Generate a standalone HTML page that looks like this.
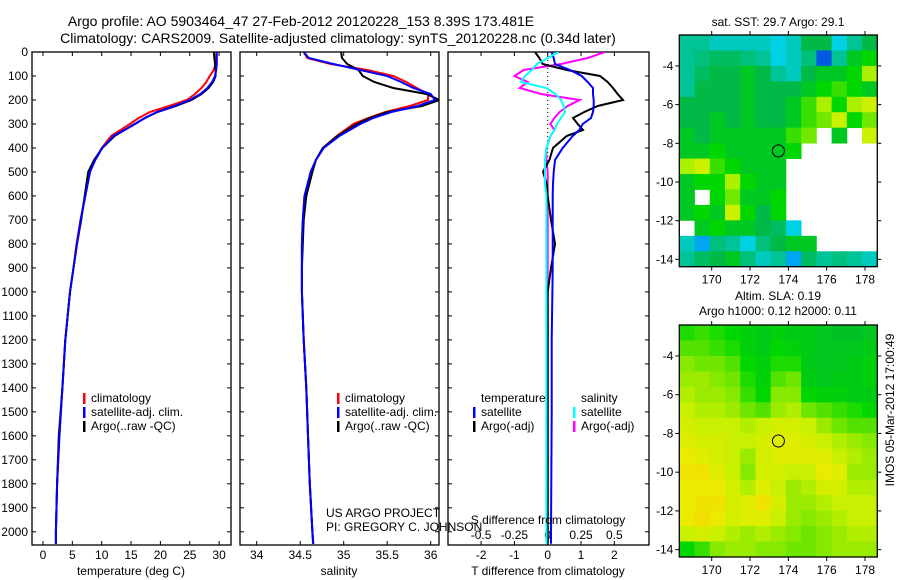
<!DOCTYPE html>
<html><head><meta charset="utf-8"><style>
html,body{margin:0;padding:0;background:#fff;}
svg{display:block;font-family:"Liberation Sans",sans-serif;}
</style></head><body>
<svg id="fig" width="900" height="580" viewBox="0 0 900 580" xmlns="http://www.w3.org/2000/svg">
<defs>
<clipPath id="c1"><rect x="32" y="52" width="199" height="493"/></clipPath>
<clipPath id="c2"><rect x="240" y="52" width="199" height="493"/></clipPath>
<clipPath id="c3"><rect x="448" y="52" width="201" height="493"/></clipPath>
</defs>
<text x="301" y="26" font-size="14" text-anchor="middle">Argo profile: AO 5903464_47 27-Feb-2012 20120228_153 8.39S 173.481E</text>
<text x="338" y="43" font-size="14" text-anchor="middle">Climatology: CARS2009. Satellite-adjusted climatology: synTS_20120228.nc (0.34d later)</text>
<g id="g-maps"></g>
<g id="g-panels"></g>
<text x="778" y="26" font-size="12" text-anchor="middle">sat. SST: 29.7 Argo: 29.1</text>
<text x="778" y="300" font-size="12" text-anchor="middle">Altim. SLA: 0.19</text>
<text x="778" y="315" font-size="12" text-anchor="middle">Argo h1000: 0.12 h2000: 0.11</text>
<text transform="translate(894,410) rotate(-90)" font-size="12" text-anchor="middle">IMOS 05-Mar-2012 17:00:49</text>
<text x="326" y="517" font-size="12">US ARGO PROJECT</text>
<text x="326" y="531" font-size="12">PI: GREGORY C. JOHNSON</text>
</svg>
<script>
// ---- profile data ----
const depth = [0,25,50,75,100,125,150,175,200,225,250,275,300,350,400,450,500,600,700,800,900,1000,1200,1400,1600,1800,2000,2050];
const tempClim = [29.5,29.5,29.4,29.1,28.4,27.8,27.0,25.9,24.5,21.5,18.2,16.3,14.8,11.6,10.0,8.9,8.0,7.2,6.4,5.7,5.2,4.6,3.8,3.3,2.8,2.4,2.2,2.2];
const tempSat = [29.6,29.6,29.6,29.5,29.3,28.8,28.0,26.8,25.0,22.4,19.4,17.3,15.7,12.0,10.1,8.9,8.0,7.2,6.4,5.8,5.2,4.6,3.8,3.3,2.8,2.4,2.2,2.2];
const tempArgo = [29.1,29.2,29.3,29.4,29.4,29.0,28.2,27.0,25.3,22.6,19.5,17.4,15.6,12.2,10.1,8.7,7.7,7.1,6.5,5.8,5.2,4.6,3.8,3.3,2.7,2.4,2.2,2.2];
const salClim = [34.54,34.58,34.85,35.27,35.57,35.72,35.84,35.97,35.97,35.76,35.48,35.28,35.11,34.92,34.76,34.68,34.63,34.55,34.53,34.52,34.52,34.52,34.54,34.57,34.59,34.61,34.64,34.65];
const salSat = [34.54,34.6,34.88,35.19,35.5,35.66,35.8,36.0,36.05,35.85,35.55,35.34,35.19,34.95,34.77,34.68,34.62,34.55,34.53,34.52,34.52,34.52,34.54,34.57,34.59,34.61,34.64,34.65];
const salArgo = [34.97,34.98,35.04,35.17,35.22,35.35,35.57,35.95,36.1,35.9,35.5,35.3,35.15,34.93,34.76,34.68,34.64,34.57,34.54,34.53,34.52,34.52,34.54,34.57,34.59,34.61,34.64,34.65];
const diffDepth = [0,25,50,75,100,125,150,175,200,225,250,275,300,325,350,400,450,500,550,600,700,800,900,1000,1200,1500,2000,2050];
const tDiffSat = [0.12,0.18,0.22,0.67,1.02,1.2,1.36,1.36,1.38,1.38,1.36,1.3,1.05,0.95,0.75,0.45,0.22,0.18,0.16,0.15,0.15,0.15,0.15,0.14,0.12,0.12,0.1,0.1];
const tDiffArgo = [-0.38,-0.25,-0.15,0.57,1.57,1.8,1.96,2.1,2.26,1.5,1.1,0.76,0.9,1.06,0.57,0.16,0.05,-0.14,-0.03,0.0,0.1,0.22,0.1,0.0,0.0,0.0,0.0,0.0];
const sDiffSat = [0.08,0.0,-0.08,-0.12,-0.17,-0.2,-0.01,0.06,0.1,0.12,0.13,0.1,0.07,0.05,0.02,-0.01,-0.02,-0.02,-0.02,-0.01,-0.01,-0.01,-0.01,-0.01,-0.01,-0.01,-0.01,-0.01];
const sDiffArgo = [0.43,0.3,0.1,-0.18,-0.25,-0.15,-0.21,-0.05,0.24,0.15,0.09,0.05,0.02,0.05,0.02,-0.01,-0.01,0.0,0.0,0.0,0.0,0.0,0.0,0.0,0.0,0.0,0.0,0.0];
const depthTicks = [0,100,200,300,400,500,600,700,800,900,1000,1100,1200,1300,1400,1500,1600,1700,1800,1900,2000];
const tempTicks = [0,5,10,15,20,25,30];
const salTicks = [34,34.5,35,35.5,36];
const tDiffTicks = [-2,-1,0,1,2];
const sDiffTicks = [-0.5,-0.25,0,0.25,0.5];
const sDiffTickLabels = ["-0.5","-0.25","0","0.25","0.5"];
// ---- map data ----
const lonTicks = [170,172,174,176,178];
const latTicks = [-4,-6,-8,-10,-12,-14];
const argoLon = 173.481, argoLat = -8.39;
const sstGrid = [
[29.2,29.2,29.1,29.1,29.1,29.1,29.0,29.1,29.5,29.5,29.0,29.2,29.5],
[29.2,29.3,29.4,29.4,29.3,29.2,29.0,29.1,29.3,28.5,29.2,29.6,29.7],
[29.2,29.4,29.5,29.5,29.6,29.5,29.2,29.1,29.5,29.6,29.6,29.7,30.0],
[29.2,29.5,29.5,29.5,29.6,29.5,29.5,29.5,29.6,29.7,29.8,29.7,29.6],
[29.5,29.5,29.5,29.5,29.6,29.5,29.5,29.6,29.8,30.0,29.7,30.0,30.1],
[29.5,29.5,29.6,29.5,29.6,29.5,29.5,29.6,29.8,29.9,30.1,29.7,29.9],
[29.6,29.5,29.6,29.6,29.6,29.6,29.6,29.8,29.9,null,29.6,null,30.1],
[29.6,29.6,29.7,29.6,29.6,29.6,29.6,29.7,null,null,null,null,null],
[30.0,30.1,29.8,29.7,29.6,29.6,29.6,null,null,null,null,null,null],
[29.6,29.7,29.7,30.0,29.7,29.6,29.6,null,null,null,null,null,null],
[29.6,null,29.7,29.9,29.6,29.6,29.7,null,null,null,null,null,null],
[29.6,29.7,29.6,30.1,29.7,29.5,29.7,null,null,null,null,null,null],
[null,29.6,29.7,29.6,29.6,29.5,29.4,29.0,null,null,null,null,null],
[29.1,28.8,29.3,29.2,29.0,29.3,29.5,29.6,29.6,null,null,null,null],
[29.2,29.4,29.5,29.6,29.3,29.1,29.2,28.8,29.4,29.2,29.3,29.2,29.1]];
const slaGrid = [
[.35,.4,.35,.3,.25,.2,.25,.2,.2,.15,.1,.1,.15],
[.45,.45,.4,.35,.25,.2,.3,.25,.2,.15,.15,.15,.2],
[.55,.5,.5,.45,.3,.25,.35,.35,.2,.15,.15,.2,.25],
[.6,.6,.55,.5,.35,.25,.45,.5,.2,.15,.2,.2,.25],
[.65,.6,.6,.55,.4,.3,.55,.55,.3,.25,.25,.2,.2],
[.7,.65,.65,.6,.5,.45,.6,.65,.5,.45,.4,.35,.3],
[.75,.7,.7,.7,.65,.7,.75,.75,.7,.6,.5,.45,.45],
[.8,.75,.75,.7,.7,.75,.8,.8,.75,.7,.65,.6,.55],
[.85,.8,.75,.7,.6,.75,.8,.8,.8,.8,.7,.65,.6],
[.9,.9,.8,.7,.55,.75,.75,.7,.7,.85,.8,.6,.6],
[.85,.85,.85,.75,.65,.8,.7,.6,.65,.75,.75,.65,.65],
[.85,.9,.9,.75,.8,.9,.75,.6,.6,.65,.7,.7,.7],
[.85,.95,.85,.75,.8,.8,.7,.6,.55,.6,.65,.7,.7],
[.7,.75,.7,.65,.6,.65,.6,.55,.5,.55,.6,.65,.65],
[.3,.4,.55,.6,.6,.55,.55,.5,.5,.55,.6,.6,.6]];

const NS="http://www.w3.org/2000/svg";
function mk(tag, attrs, parent){const e=document.createElementNS(NS,tag);for(const k in attrs)e.setAttribute(k,attrs[k]);parent.appendChild(e);return e;}
const P=document.getElementById('g-panels');
const M=document.getElementById('g-maps');
const yD = d => 52 + d*0.2399;
const xT = t => 43 + 5.87*t;
const xS = s => 256.7 + 87*(s-34);
const xTd = v => 547.7 + 33.3*v;
const xSd = v => 547.7 + 133.3*v;
const Y0=52, Y1=545;

function line(parent, xs, ds, fx, color, clip, name){
  const pts = xs.map((v,i)=>fx(v).toFixed(1)+','+yD(ds[i]).toFixed(1)).join(' ');
  const e = mk('polyline',{points:pts,fill:'none',stroke:color,'stroke-width':2,'clip-path':'url(#'+clip+')'},parent);
  
  
}
function frame(x0,x1,name){
  const r=mk('rect',{x:x0,y:Y0,width:x1-x0,height:Y1-Y0,fill:'none',stroke:'#000','stroke-width':1.3},P);
  
  
  depthTicks.forEach(d=>{
    mk('line',{x1:x0,x2:x0+4,y1:yD(d),y2:yD(d),stroke:'#000'},P);
    mk('line',{x1:x1,x2:x1-4,y1:yD(d),y2:yD(d),stroke:'#000'},P);
  });
}
function xticks(vals, fx, labels, ylab, top, name){
  vals.forEach((v,i)=>{
    const x=fx(v);
    mk('line',{x1:x,x2:x,y1:Y1,y2:Y1-4,stroke:'#000'},P);
    if(top) mk('line',{x1:x,x2:x,y1:Y0,y2:Y0+4,stroke:'#000'},P);
    const t=mk('text',{x:x,y:ylab,'font-size':12,'text-anchor':'middle'},P);
    t.textContent=labels?labels[i]:String(v);
    
    
  });
}
depthTicks.forEach(d=>{
  const t=mk('text',{x:28,y:yD(d)+4,'font-size':12,'text-anchor':'end'},P);
  t.textContent=String(d);
  
  
});
frame(32,231,'temperature-panel');
xticks(tempTicks,xT,null,559,true,'temperature-tick-label');
line(P,tempClim,depth,xT,'#f00','c1','temp-climatology-line');
line(P,tempArgo,depth,xT,'#000','c1','temp-argo-line');
line(P,tempSat,depth,xT,'#00f','c1','temp-satellite-line');
frame(240,439,'salinity-panel');
xticks(salTicks,xS,null,559,true,'salinity-tick-label');
line(P,salClim,depth,xS,'#f00','c2','sal-climatology-line');
line(P,salArgo,depth,xS,'#000','c2','sal-argo-line');
line(P,salSat,depth,xS,'#00f','c2','sal-satellite-line');
frame(448,649,'difference-panel');
xticks(tDiffTicks,xTd,null,559,false,'t-diff-tick-label');
sDiffTicks.forEach((v,i)=>{
  const x=xSd(v);
  mk('line',{x1:x,x2:x,y1:Y0,y2:Y0+4,stroke:'#000'},P);
  const t=mk('text',{x:x,y:539,'font-size':12,'text-anchor':'middle'},P);
  t.textContent=sDiffTickLabels[i];
  
  
});
mk('line',{x1:xTd(0),x2:xTd(0),y1:Y0,y2:yD(500),stroke:'#000','stroke-dasharray':'1,3'},P);
line(P,sDiffArgo,diffDepth,xSd,'#f0f','c3','s-diff-argo-line');
line(P,tDiffArgo,diffDepth,xTd,'#000','c3','t-diff-argo-line');
line(P,tDiffSat,diffDepth,xTd,'#00f','c3','t-diff-satellite-line');
line(P,sDiffSat,diffDepth,xSd,'#0ff','c3','s-diff-satellite-line');
[[131,575,'temperature (deg C)','temperature-axis-title'],[339,575,'salinity','salinity-axis-title'],[548,575,'T difference from climatology','t-diff-axis-title'],[548,524,'S difference from climatology','s-diff-axis-title']].forEach(a=>{
  const t=mk('text',{x:a[0],y:a[1],'font-size':12,'text-anchor':'middle'},P);t.textContent=a[2];
  
  
});
function legend(x,y,color,label){
  mk('rect',{x:x,y:y-9,width:2.5,height:11,fill:color},P);
  const t=mk('text',{x:x+8,y:y,'font-size':12},P);t.textContent=label;
  
  
}
legend(83,402,'#f00','climatology');legend(83,416,'#00f','satellite-adj. clim.');legend(83,430,'#000','Argo(..raw -QC)');
legend(337,402,'#f00','climatology');legend(337,416,'#00f','satellite-adj. clim.');legend(337,430,'#000','Argo(..raw -QC)');
{const t=mk('text',{x:481,y:402,'font-size':12},P);t.textContent='temperature';}
{const t=mk('text',{x:581,y:402,'font-size':12},P);t.textContent='salinity';}
legend(473,416,'#00f','satellite');legend(473,430,'#000','Argo(-adj)');
legend(573,416,'#0ff','satellite');legend(573,430,'#f0f','Argo(-adj)');

const LON0=168.31, LON1=178.64, LAT0=-2.40, LAT1=-14.38;
function lerpPal(stops,v){
  if(v<=stops[0][0])return stops[0][1];
  for(let i=1;i<stops.length;i++){ if(v<=stops[i][0]){const a=stops[i-1],b=stops[i],f=(v-a[0])/(b[0]-a[0]);
    return a[1].map((c,k)=>Math.round(c+(b[1][k]-c)*f));}}
  return stops[stops.length-1][1];
}
const sstPal=[[28.2,[0,0,140]],[28.6,[0,120,255]],[29.0,[0,210,230]],[29.2,[0,195,150]],[29.5,[0,185,70]],[29.7,[0,215,0]],[30.0,[170,240,0]],[30.2,[235,240,0]]];
const slaPal=[[0,[0,180,60]],[0.3,[0,215,0]],[0.5,[110,230,0]],[0.7,[200,240,0]],[0.85,[235,235,0]],[1,[245,215,0]]];
function drawMap(x0,x1,y0,y1,grid,pal,name){
  const g=mk('g',{},M);
  
  
  const fx=lon=>x0+(lon-LON0)/(LON1-LON0)*(x1-x0);
  const fy=lat=>y0+(lat-LAT0)/(LAT1-LAT0)*(y1-y0);
  const nr=grid.length, nc=grid[0].length;
  const dLon=(LON1-LON0)/nc, dLat=(LAT1-LAT0)/nr;
  grid.forEach((row,r)=>row.forEach((v,c)=>{
    if(v===null)return;
    const xa=fx(LON0+c*dLon), xb=fx(LON0+(c+1)*dLon), ya=fy(LAT0+r*dLat), yb=fy(LAT0+(r+1)*dLat);
    const col=lerpPal(pal,v);
    const cell=mk('rect',{x:xa.toFixed(2),y:ya.toFixed(2),width:(xb-xa+0.4).toFixed(2),height:(yb-ya+0.4).toFixed(2),fill:'rgb('+col.join(',')+')'},g);
    
    
  }));
  mk('rect',{x:x0,y:y0,width:x1-x0,height:y1-y0,fill:'none',stroke:'#000','stroke-width':1.3},g);
  lonTicks.forEach(l=>{const x=fx(l);
    mk('line',{x1:x,x2:x,y1:y1,y2:y1+4,stroke:'#000'},g);
    mk('line',{x1:x,x2:x,y1:y0,y2:y0-4,stroke:'#000'},g);
    const t=mk('text',{x:x,y:y1+17,'font-size':12,'text-anchor':'middle'},g);t.textContent=String(l);
    
    
  });
  latTicks.forEach(l=>{const y=fy(l);
    mk('line',{x1:x0,x2:x0-4,y1:y,y2:y,stroke:'#000'},g);
    mk('line',{x1:x1,x2:x1+4,y1:y,y2:y,stroke:'#000'},g);
    const t=mk('text',{x:x0-6,y:y+4,'font-size':12,'text-anchor':'end'},g);t.textContent=String(l);
    
    
  });
  const c=mk('circle',{cx:fx(argoLon),cy:fy(argoLat),r:6,fill:'none',stroke:'#000','stroke-width':1},g);
  
  
}
drawMap(679.3,877.3,35,266.7,sstGrid,sstPal,'sst-map');
drawMap(679.3,877.3,325,557,slaGrid,slaPal,'sla-map');
</script>
</body></html>
